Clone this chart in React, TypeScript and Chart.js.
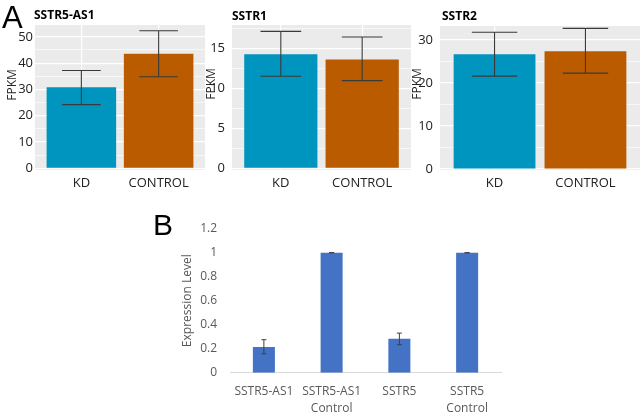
import React, { useEffect, useRef } from "react";
import { Chart, registerables } from "chart.js";

Chart.register(...registerables);

// ---------------- data ----------------
const groups = ["KD", "CONTROL"];

const sstr5as1Mean = [30.8, 43.6];
const sstr5as1Low = [24.2, 34.8];
const sstr5as1High = [37.2, 52.3];
const sstr5as1Ticks = [0, 10, 20, 30, 40, 50];

const sstr1Mean = [14.25, 13.6];
const sstr1Low = [11.5, 10.95];
const sstr1High = [17.1, 16.4];
const sstr1Ticks = [0, 5, 10, 15];

const sstr2Mean = [26.7, 27.4];
const sstr2Low = [21.6, 22.3];
const sstr2High = [31.8, 32.7];
const sstr2Ticks = [0, 10, 20, 30];

const bCategories = [["SSTR5-AS1"], ["SSTR5-AS1", "Control"], ["SSTR5"], ["SSTR5", "Control"]];
const bValues = [0.214, 1, 0.283, 1];
const bErrLow = [0.158, 1, 0.233, 1];
const bErrHigh = [0.275, 1, 0.33, 1];
const bTicks = [0, 0.2, 0.4, 0.6, 0.8, 1, 1.2];

// ---------------- styles ----------------
const FONT = "'Open Sans', 'DejaVu Sans', sans-serif";
const KD_COLOR = "#0095BF";
const CTRL_COLOR = "#BA5B00";
const PANEL_BG = "#EBEBEB";

function bgPlugin(color: string) {
  return {
    id: "panelBg",
    beforeDraw(chart: any) {
      const { ctx, chartArea } = chart;
      ctx.save();
      ctx.fillStyle = color;
      ctx.fillRect(chartArea.left, chartArea.top, chartArea.width, chartArea.height);
      ctx.restore();
    },
  };
}

function errorBarPlugin(low: number[], high: number[], color: string, capFn: (w: number) => number, lw: number) {
  return {
    id: "errBars",
    afterDatasetsDraw(chart: any) {
      const meta = chart.getDatasetMeta(0);
      const y = chart.scales.y;
      const ctx = chart.ctx;
      ctx.save();
      ctx.strokeStyle = color;
      ctx.lineWidth = lw;
      meta.data.forEach((bar: any, i: number) => {
        const x = bar.x;
        const cap = capFn(bar.width) / 2;
        const yl = y.getPixelForValue(low[i]);
        const yh = y.getPixelForValue(high[i]);
        ctx.beginPath();
        ctx.moveTo(x, yl);
        ctx.lineTo(x, yh);
        ctx.moveTo(x - cap, yl);
        ctx.lineTo(x + cap, yl);
        ctx.moveTo(x - cap, yh);
        ctx.lineTo(x + cap, yh);
        ctx.stroke();
      });
      ctx.restore();
    },
  };
}

type GGSpec = {
  means: number[];
  lows: number[];
  highs: number[];
  majors: number[];
  yMin: number;
  yMax: number;
  yWidth: number;
  tickPad: number;
  padTop: number;
  padRight: number;
};

function ggConfig(p: GGSpec): any {
  const minors: number[] = [];
  for (let i = 0; i < p.majors.length; i++) {
    const step = i + 1 < p.majors.length ? p.majors[i + 1] - p.majors[i] : p.majors[i] - p.majors[i - 1];
    const m = p.majors[i] + step / 2;
    if (m < p.yMax) minors.push(m);
  }
  const yTicks = [...p.majors, ...minors].sort((a, b) => a - b);
  return {
    type: "bar",
    data: {
      datasets: [
        {
          data: groups.map((_, i) => ({ x: i + 1, y: p.means[i] })),
          backgroundColor: [KD_COLOR, CTRL_COLOR],
          borderWidth: 0,
          barPercentage: 0.9,
          categoryPercentage: 1,
        },
      ],
    },
    options: {
      responsive: false,
      animation: false,
      devicePixelRatio: 1,
      layout: { padding: { left: 0, right: p.padRight, top: p.padTop, bottom: 0 } },
      plugins: { legend: { display: false }, tooltip: { enabled: false } },
      scales: {
        x: {
          type: "linear",
          min: 0.4,
          max: groups.length + 0.6,
          offset: false,
          afterBuildTicks: (s: any) => {
            s.ticks = groups.map((_, i) => ({ value: i + 1 }));
          },
          afterFit: (s: any) => {
            s.height = 30;
          },
          grid: { offset: false, color: "#FFFFFF", lineWidth: 1.2, drawTicks: false },
          border: { display: false },
          ticks: {
            autoSkip: false,
            maxRotation: 0,
            padding: 5,
            color: "#222222",
            font: { family: FONT, size: 13 },
            callback: (v: number) => groups[Math.round(v) - 1] ?? "",
          },
        },
        y: {
          type: "linear",
          min: p.yMin,
          max: p.yMax,
          afterBuildTicks: (s: any) => {
            s.ticks = yTicks.map((v) => ({ value: v }));
          },
          afterFit: (s: any) => {
            s.width = p.yWidth;
          },
          grid: {
            color: "#FFFFFF",
            lineWidth: (ctx: any) => (ctx.tick && p.majors.includes(ctx.tick.value) ? 1.2 : 0.6),
            drawTicks: false,
          },
          border: { display: false },
          ticks: {
            autoSkip: false,
            padding: p.tickPad,
            color: "#222222",
            font: { family: FONT, size: 13 },
            callback: (v: number) => (p.majors.includes(v) ? String(v) : ""),
          },
        },
      },
    },
    plugins: [
      bgPlugin(PANEL_BG),
      errorBarPlugin(p.lows, p.highs, "#3A3A3A", (w) => (w * 0.5) / 0.9, 1.1),
    ],
  };
}

function bConfig(): any {
  return {
    type: "bar",
    data: {
      labels: bCategories,
      datasets: [
        {
          data: bValues,
          backgroundColor: "#4472C4",
          borderWidth: 0,
          barPercentage: 0.325,
          categoryPercentage: 1,
        },
      ],
    },
    options: {
      responsive: false,
      animation: false,
      devicePixelRatio: 1,
      layout: { padding: { left: 0, right: 9, top: 28.7, bottom: 0 } },
      plugins: { legend: { display: false }, tooltip: { enabled: false } },
      scales: {
        x: {
          afterFit: (s: any) => {
            s.height = 40.3;
          },
          grid: { display: false, drawTicks: false },
          border: { display: true, color: "#D9D9D9", width: 1 },
          ticks: {
            autoSkip: false,
            maxRotation: 0,
            padding: 11,
            color: "#595959",
            font: { family: FONT, size: 12, lineHeight: 1.36 },
          },
        },
        y: {
          min: 0,
          max: 1.2,
          afterBuildTicks: (s: any) => {
            s.ticks = bTicks.map((v) => ({ value: v }));
          },
          afterFit: (s: any) => {
            s.width = 60;
          },
          grid: { display: false, drawTicks: false },
          border: { display: false },
          ticks: {
            autoSkip: false,
            padding: 13,
            color: "#595959",
            font: { family: FONT, size: 12 },
            callback: (v: number) => String(v),
          },
          title: {
            display: true,
            text: "Expression Level",
            color: "#595959",
            font: { family: FONT, size: 12 },
            padding: { top: 10, bottom: 0 },
          },
        },
      },
    },
    plugins: [errorBarPlugin(bErrLow, bErrHigh, "#404040", () => 5, 1)],
  };
}

function ChartCanvas(props: { left: number; top: number; width: number; height: number; make: () => any }) {
  const ref = useRef<HTMLCanvasElement>(null);
  useEffect(() => {
    const chart = new Chart(ref.current as HTMLCanvasElement, props.make());
    return () => chart.destroy();
  }, []);
  return (
    <canvas
      ref={ref}
      width={props.width}
      height={props.height}
      style={{ position: "absolute", left: props.left, top: props.top, width: props.width, height: props.height }}
    />
  );
}

function Label(props: { x: number; y: number; text: string; size: number; bold?: boolean; color?: string; family?: string }) {
  return (
    <div
      style={{
        position: "absolute",
        left: props.x,
        top: props.y,
        fontSize: props.size,
        lineHeight: `${Math.round(props.size * 1.33)}px`,
        fontWeight: props.bold ? 700 : 400,
        color: props.color ?? "#000",
        fontFamily: props.family ?? FONT,
        whiteSpace: "nowrap",
      }}
    >
      {props.text}
    </div>
  );
}

function VLabel(props: { cx: number; cy: number; text: string }) {
  return (
    <div
      style={{
        position: "absolute",
        left: props.cx,
        top: props.cy,
        transform: "translate(-50%, -50%) rotate(-90deg)",
        fontSize: 12,
        lineHeight: "16px",
        color: "#222",
        fontFamily: FONT,
        whiteSpace: "nowrap",
      }}
    >
      {props.text}
    </div>
  );
}

export default function App() {
  return (
    <div style={{ position: "absolute", left: 0, top: 0, width: 640, height: 413, background: "#fff", overflow: "hidden" }}>
      <ChartCanvas
        left={0}
        top={0}
        width={206}
        height={200}
        make={() =>
          ggConfig({
            means: sstr5as1Mean,
            lows: sstr5as1Low,
            highs: sstr5as1High,
            majors: sstr5as1Ticks,
            yMin: -0.65,
            yMax: 54.5,
            yWidth: 35,
            tickPad: 2,
            padTop: 25,
            padRight: 1,
          })
        }
      />
      <ChartCanvas
        left={200}
        top={0}
        width={212}
        height={200}
        make={() =>
          ggConfig({
            means: sstr1Mean,
            lows: sstr1Low,
            highs: sstr1High,
            majors: sstr1Ticks,
            yMin: -0.21,
            yMax: 17.9,
            yWidth: 32,
            tickPad: 7,
            padTop: 25,
            padRight: 1,
          })
        }
      />
      <ChartCanvas
        left={405}
        top={0}
        width={235}
        height={200}
        make={() =>
          ggConfig({
            means: sstr2Mean,
            lows: sstr2Low,
            highs: sstr2High,
            majors: sstr2Ticks,
            yMin: -0.23,
            yMax: 33.26,
            yWidth: 35,
            tickPad: 7,
            padTop: 26,
            padRight: 0,
          })
        }
      />
      <ChartCanvas left={170} top={200} width={340} height={213} make={bConfig} />

      <Label x={2} y={-3} text="A" size={31} family="'Liberation Sans', Arial, sans-serif" />
      <Label x={34} y={7} text="SSTR5-AS1" size={12} bold />
      <Label x={232} y={8} text="SSTR1" size={12} bold />
      <Label x={442} y={8} text="SSTR2" size={12} bold />
      <VLabel cx={12} cy={85} text="FPKM" />
      <VLabel cx={211} cy={84} text="FPKM" />
      <VLabel cx={417} cy={84} text="FPKM" />
      <Label x={153} y={205} text="B" size={30} family="'Liberation Sans', Arial, sans-serif" />
    </div>
  );
}
